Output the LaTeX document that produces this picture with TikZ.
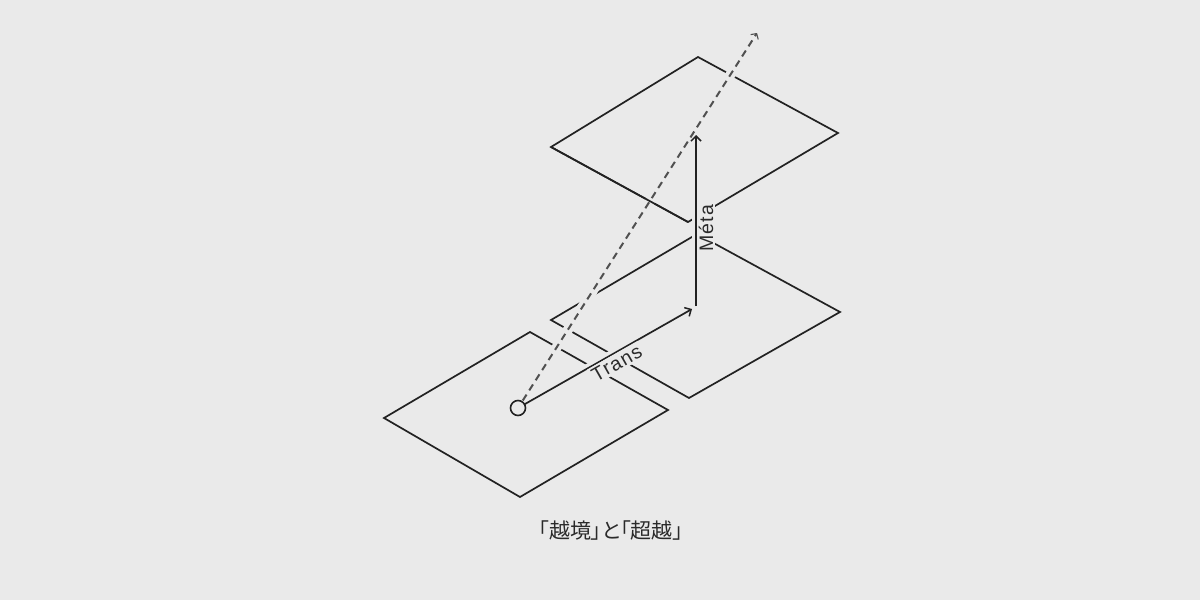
\documentclass[tikz,border=0pt]{standalone}
\usepackage{fontspec}
\setmainfont{Liberation Sans}
\newfontfamily\cjkfont[RawFeature=+palt]{Noto Sans CJK JP}
\usetikzlibrary{arrows.meta,calc}
\definecolor{bg}{HTML}{EAEAEA}
\definecolor{ink}{HTML}{222222}
\definecolor{dashink}{HTML}{505050}
\definecolor{txt}{HTML}{2A2A2A}
\tikzset{
  x=1pt, y=-1pt,
  plane/.style={draw=ink, line width=1.7pt, line join=miter},
  halo/.style={draw=bg, line width=#1},
  halo/.default=9pt,
  mainarrow/.style={draw=ink, line width=1.7pt, -{Straight Barb[length=5pt,width=10pt,line width=1.5pt]}},
  dashline/.style={draw=dashink, line width=2pt, dash pattern=on 7pt off 5pt, -{Straight Barb[length=4pt,width=9pt,line width=1.1pt]}},
  lbl/.style={font=\fontsize{19.5}{22}\selectfont\addfontfeature{LetterSpace=7}, text=txt, fill=bg, inner sep=2pt},
  caption/.style={font=\cjkfont\fontsize{21}{24}\selectfont, text=txt},
  origin/.style={circle, draw=ink, line width=1.6pt, fill=bg, minimum size=15pt, inner sep=0pt}
}
\begin{document}
\begin{tikzpicture}
\fill[bg] (0,0) rectangle (1200,600);
\useasboundingbox (0,0) rectangle (1200,600);
% lower plane
\coordinate (A1) at (384,418);
\coordinate (A2) at (530,332);
\coordinate (A3) at (668,410);
\coordinate (A4) at (520,497);
% middle plane
\coordinate (B1) at (551,320);
\coordinate (B2) at (697,234);
\coordinate (B3) at (840,312);
\coordinate (B4) at (689,398);
% top plane
\coordinate (C1) at (551,147);
\coordinate (C2) at (698,57);
\coordinate (C3) at (838,133);
\coordinate (C4) at (688,222);
% key points
\coordinate (O) at (518,408);
\coordinate (T) at (692,309);
\coordinate (P) at (696,306);
\coordinate (Q) at (696,135);
\coordinate (D) at (757,33);

\draw[plane] (A1) -- (A2) -- (A3) -- (A4) -- cycle;
\draw[plane] (B1) -- (B2) -- (B3) -- (B4) -- cycle;
\draw[plane] (C1) -- (C2) -- (C3) -- (C4) -- cycle;

% halo under Trans arrow
\draw[halo=9pt] ($(O)!0.3!(T)$) -- ($(O)!0.75!(T)$);
% dashed line with halo
\draw[halo=10pt] ($(O)!0.06!(D)$) -- ($(O)!0.97!(D)$);
\draw[plane] (C1) -- (C4);
\draw[dashline] ($(O)!0.02!(D)$) -- (D);

% Trans arrow
\draw[mainarrow] (O) -- (T) node[pos=0.54, below, sloped, lbl] (trans) {Trans};
% Meta arrow
\draw[halo=9pt] ($(P)!0.3!(Q)$) -- ($(P)!0.6!(Q)$);
\draw[mainarrow] (P) -- (Q) node[pos=0.455, below, sloped, lbl] (meta) {Méta};

\node[origin] (o) at (O) {};

\node[caption] (cap) at (611,531) {「越境」と「超越」};
\end{tikzpicture}
\end{document}
